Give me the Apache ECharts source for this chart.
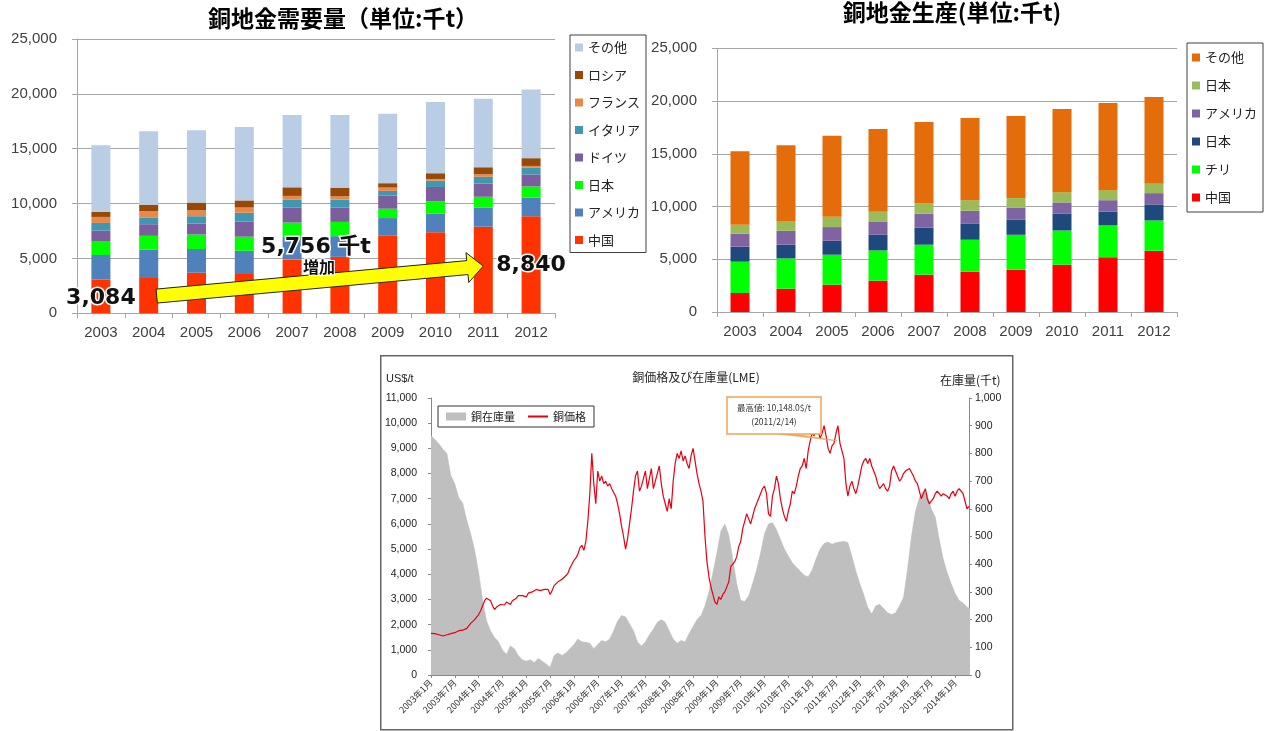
<!DOCTYPE html>
<html>
<head>
<meta charset="utf-8">
<script src="https://cdn.jsdelivr.net/npm/echarts@6/dist/echarts.min.js"></script>
<style>
  html, body { margin: 0; padding: 0; background: #fff; width: 1273px; height: 731px; overflow: hidden; }
  .panel { position: absolute; }
  #demand { left: 0; top: 0; width: 650px; height: 345px; }
  #production { left: 640px; top: 0; width: 633px; height: 345px; }
  #lme { left: 380px; top: 355px; width: 634px; height: 376px; background: #fff; }
</style>
</head>
<body>
<div id="demand" class="panel"></div>
<div id="production" class="panel"></div>
<div id="lme" class="panel"></div>
<script>
// ---------- Refined copper demand (thousand t) ----------
const years = ['2003', '2004', '2005', '2006', '2007', '2008', '2009', '2010', '2011', '2012'];

const demandChina   = [3084, 3300, 3700, 3580, 4910, 5150, 7080, 7385, 7890, 8840];
const demandUSA     = [2230, 2490, 2160, 2120, 2060, 1880, 1600, 1690, 1730, 1700];
const demandJapan   = [1220, 1270, 1320, 1280, 1300, 1300, 850, 1140, 1000, 1020];
const demandGermany = [1000, 1060, 1010, 1380, 1380, 1300, 1200, 1300, 1200, 1100];
const demandItaly   = [700, 620, 660, 800, 720, 730, 430, 570, 620, 600];
const demandFrance  = [550, 560, 540, 480, 330, 300, 300, 160, 230, 170];
const demandRussia  = [450, 600, 700, 650, 780, 790, 400, 520, 640, 710];
const demandOther   = [6080, 6700, 6600, 6700, 6600, 6630, 6320, 6500, 6250, 6250];

// ---------- Refined copper production (thousand t) ----------
const prodChina  = [1800, 2210, 2590, 2970, 3535, 3820, 4010, 4480, 5180, 5810];
const prodChile  = [2970, 2870, 2840, 2870, 2845, 3030, 3310, 3250, 3030, 2870];
const prodJapan  = [1420, 1300, 1325, 1480, 1610, 1550, 1420, 1610, 1320, 1520];
const prodUSA    = [1230, 1320, 1295, 1270, 1320, 1200, 1170, 1050, 1070, 1070];
const prodJapan2 = [850, 890, 980, 910, 980, 1000, 890, 970, 950, 880];
const prodOther  = [6980, 7220, 7670, 7860, 7730, 7800, 7790, 7890, 8270, 8240];

// ---------- LME copper price (US$/t), two readings per month from 2003-01 ----------
const copperPrice = [
  1650,1610, 1640,1620, 1600,1570, 1550,1580, 1600,1620, 1640,1650, 1680,1700, 1760,1740, 1780,1800, 1850,1950, 2050,2100, 2200,2300,
  2400,2550, 2750,2950, 3050,3100, 2950,2750, 2600,2700, 2650,2800, 2850,2780, 2900,2850, 2800,2950, 2900,3050, 3150,3100, 3150,3200,
  3100,3250, 3200,3300, 3350,3400, 3450,3350, 3300,3400, 3450,3400, 3200,3350, 3550,3600, 3700,3650, 3800,3850, 3950,4050, 4250,4400,
  4550,4650, 4800,5050, 5150,4950, 5300,6100, 7200,8800, 7600,6800, 8100,7700, 7900,7600, 7700,7500, 7600,7400, 7400,7100, 6800,6400,
  5900,5500, 5000,5400, 6000,6600, 7300,7900, 8100,7300, 7500,7800, 8100,7400, 7800,8200, 7400,7700, 8000,8300, 7600,7100, 6800,6500,
  7000,6600, 7700,8400, 8800,8600, 8900,8500, 8700,8400, 8200,8700, 9000,8500, 8000,7600, 7300,6900, 5500,4500, 3900,3500, 3200,2900,
  2800,3100, 3000,3200, 3300,3500, 3700,4300, 4400,4500, 4700,5100, 5300,5800, 6100,6400, 6200,6000, 6300,6600, 6800,7000, 7200,7400,
  7500,7200, 6400,6300, 7100,7400, 7900,7600, 7000,6600, 6300,6100, 6500,6800, 7300,7200, 7500,7900, 8200,8300, 8600,8200, 8900,9300,
  9600,9500, 9900,9700, 9400,9600, 9900,9500, 9000,8800, 9100,9200, 9600,9900, 9200,8900, 8600,7600, 7100,7500, 7700,7400, 7200,7500,
  7900,8300, 8500,8600, 8400,8600, 8300,8100, 7900,7600, 7400,7500, 7600,7400, 7300,7500, 8100,8300, 8100,7900, 7700,7800, 8000,8100,
  8100,8200, 8200,7900, 7700,7600, 7300,7000, 7200,7400, 7000,6800, 6900,7000, 7200,7300, 7200,7100, 7200,7200, 7100,7000, 7200,7300,
  7100,7300, 7400,7300, 7200,6900, 6600,6700
];

// ---------- LME copper stocks (thousand t), monthly from 2003-01 ----------
const copperStock = [
  865, 850, 835, 815, 800, 720, 690, 640, 620, 560, 510, 450,
  370, 270, 195, 160, 135, 120, 90, 75, 105, 95, 70, 55,
  50, 55, 45, 60, 50, 40, 28, 70, 80, 70, 80, 95,
  110, 130, 120, 118, 115, 95, 110, 125, 120, 130, 160, 195,
  215, 210, 185, 160, 120, 105, 120, 145, 165, 190, 200, 190,
  160, 130, 115, 125, 120, 150, 175, 200, 215, 250, 300, 370,
  440, 520, 545, 505, 420, 330, 270, 265, 285, 330, 380, 440,
  510, 545, 550, 525, 490, 455, 430, 405, 390, 375, 360, 355,
  380, 420, 455, 475, 480, 472, 478, 480, 483, 478, 430, 375,
  330, 290, 245, 220, 250, 255, 240, 225, 218, 225, 250, 280,
  380, 500, 590, 640, 665, 650, 600, 570, 490, 420, 370, 330,
  295, 270, 260, 245, 240
];

// Callout anchors (data units) for the demand growth arrow and price peak note
const arrowTailValue = 1570;
const arrowTipValue = 4300;
const peakNoteText = ['最高値: 10,148.0$/t', '(2011/2/14)'];
const peakNotePoint = [102.3, 9300];

const CJK = "'Noto Sans CJK JP', sans-serif";
const NUM = "'Liberation Sans', Arial, sans-serif";
const BOLDNUM = "'DejaVu Sans', 'Noto Sans CJK JP', sans-serif";
const GRID_GRAY = '#a6a6a6';
const fmtThousands = v => Number(v).toLocaleString('en-US');

function stackedBar(name, data, color) {
  return { name, type: 'bar', stack: 'total', data, barWidth: 19,
           itemStyle: { color }, emphasis: { disabled: true } };
}
function txt(x, y, text, extra) {
  return { type: 'text', x, y, z: 100, silent: true,
           style: Object.assign({ text, align: 'center', verticalAlign: 'middle',
                                  fill: '#000', fontFamily: CJK, fontSize: 12 }, extra || {}) };
}
function arrowPoints(tail, tip, shaftHalf, headHalf, headLen) {
  const dx = tip[0] - tail[0], dy = tip[1] - tail[1], L = Math.hypot(dx, dy);
  const ux = dx / L, uy = dy / L, nx = -uy, ny = ux;
  const bx = tip[0] - ux * headLen, by = tip[1] - uy * headLen;
  return [
    [tail[0] + nx * shaftHalf, tail[1] + ny * shaftHalf],
    [bx + nx * shaftHalf, by + ny * shaftHalf],
    [bx + nx * headHalf, by + ny * headHalf],
    [tip[0], tip[1]],
    [bx - nx * headHalf, by - ny * headHalf],
    [bx - nx * shaftHalf, by - ny * shaftHalf],
    [tail[0] - nx * shaftHalf, tail[1] - ny * shaftHalf]
  ];
}
function barAxes() {
  return {
    xAxis: {
      type: 'category', data: years,
      axisLine: { lineStyle: { color: GRID_GRAY } },
      axisTick: { show: true, length: 5, lineStyle: { color: GRID_GRAY } },
      axisLabel: { fontFamily: NUM, fontSize: 15, color: '#404040', margin: 12 }
    },
    yAxis: {
      type: 'value', min: 0, max: 25000, interval: 5000,
      axisLine: { show: true, lineStyle: { color: GRID_GRAY } },
      axisTick: { show: true, length: 5, lineStyle: { color: GRID_GRAY } },
      splitLine: { lineStyle: { color: GRID_GRAY } },
      axisLabel: { fontFamily: NUM, fontSize: 15, color: '#404040', margin: 20, formatter: fmtThousands }
    }
  };
}

// ---------- Demand chart ----------
const demandChart = echarts.init(document.getElementById('demand'), null, { renderer: 'canvas' });
demandChart.setOption(Object.assign({
  animation: false,
  grid: { left: 77, right: 95, top: 39, bottom: 31.7, outerBoundsMode: 'none' },
  legend: {
    orient: 'vertical', left: 570, top: 35,
    data: ['その他', 'ロシア', 'フランス', 'イタリア', 'ドイツ', '日本', 'アメリカ', '中国'],
    icon: 'rect', itemWidth: 8, itemHeight: 8, itemGap: 14.5,
    padding: [6, 6, 6, 5], borderColor: '#404040', borderWidth: 1,
    textStyle: { fontFamily: CJK, fontSize: 13, lineHeight: 13, color: '#222' },
    selectedMode: false
  },
  series: [
    stackedBar('中国', demandChina, '#ff3300'),
    stackedBar('アメリカ', demandUSA, '#4f81bd'),
    stackedBar('日本', demandJapan, '#00ff00'),
    stackedBar('ドイツ', demandGermany, '#7b5e9e'),
    stackedBar('イタリア', demandItaly, '#3f98b2'),
    stackedBar('フランス', demandFrance, '#e8894a'),
    stackedBar('ロシア', demandRussia, '#984807'),
    stackedBar('その他', demandOther, '#b9cde5')
  ]
}, barAxes()));

(function addDemandNotes() {
  const P = (c, v) => demandChart.convertToPixel({ seriesIndex: 0 }, [c, v]);
  const first = years[0], last = years[years.length - 1];
  const tail = P('2004', arrowTailValue); tail[0] += 8;
  const tip = P('2011', arrowTipValue);
  const mid = [(tail[0] + tip[0]) / 2, (tail[1] + tip[1]) / 2];
  const startLbl = P(first, 1400), endLbl = P(last, 4390);
  const growth = demandChina[demandChina.length - 1] - demandChina[0];
  const bigText = { fontFamily: BOLDNUM, fontWeight: 'bold', fontSize: 22, fill: '#111',
                    stroke: '#fff', lineWidth: 3 };
  demandChart.setOption({
    graphic: [
      txt(343, 18, '銅地金需要量（単位:千t）', { fontSize: 23, fontWeight: 'bold' }),
      { type: 'polygon', z: 90, silent: true,
        shape: { points: arrowPoints(tail, tip, 7, 15, 16) },
        style: { fill: '#ffff00', stroke: '#222', lineWidth: 1 } },
      txt(startLbl[0], startLbl[1], fmtThousands(demandChina[0]), bigText),
      txt(endLbl[0], endLbl[1], fmtThousands(demandChina[demandChina.length - 1]), bigText),
      txt(mid[0] - 4, mid[1] - 34, fmtThousands(growth) + ' 千t', bigText),
      txt(mid[0] - 1, mid[1] - 14, '増加', { fontFamily: CJK, fontWeight: 'bold', fontSize: 16,
                                           fill: '#111', stroke: '#fff', lineWidth: 2 })
    ]
  });
})();

// ---------- Production chart ----------
const prodChart = echarts.init(document.getElementById('production'), null, { renderer: 'canvas' });
prodChart.setOption(Object.assign({
  animation: false,
  grid: { left: 77, right: 96, top: 48.3, bottom: 33, outerBoundsMode: 'none' },
  legend: {
    orient: 'vertical', left: 547, top: 43,
    data: ['その他', '日本 ', 'アメリカ', '日本', 'チリ', '中国'],
    icon: 'rect', itemWidth: 8, itemHeight: 8, itemGap: 15,
    padding: [8, 6, 8, 5], borderColor: '#404040', borderWidth: 1,
    textStyle: { fontFamily: CJK, fontSize: 13, lineHeight: 13, color: '#222' },
    selectedMode: false
  },
  series: [
    stackedBar('中国', prodChina, '#ff0000'),
    stackedBar('チリ', prodChile, '#00ff00'),
    stackedBar('日本', prodJapan, '#1f497d'),
    stackedBar('アメリカ', prodUSA, '#8064a2'),
    stackedBar('日本 ', prodJapan2, '#9bbb59'),
    stackedBar('その他', prodOther, '#e46c0a')
  ],
  graphic: [ txt(312, 12, '銅地金生産(単位:千t)', { fontSize: 23, fontWeight: 'bold' }) ]
}, barAxes()));

// ---------- LME price & stocks chart ----------
const MONTH0 = 2003;
const monthLabel = m => {
  if (m % 6 !== 0) return '';
  return (MONTH0 + Math.floor(m / 12)) + '年' + (m % 12 + 1) + '月';
};
const priceData = copperPrice.map((v, i) => [i / 2, v]);
const stockData = copperStock.map((v, j) => [j, v]);

const lmeChart = echarts.init(document.getElementById('lme'), null, { renderer: 'canvas' });
lmeChart.setOption({
  animation: false,
  grid: { left: 51, right: 45, top: 43, bottom: 56, outerBoundsMode: 'none' },
  legend: {
    left: 58, top: 51, orient: 'horizontal',
    data: [{ name: '銅在庫量', icon: 'rect' },
           { name: '銅価格', itemStyle: { opacity: 0 } }],
    itemWidth: 20, itemHeight: 8, itemGap: 12,
    padding: [5, 8, 5, 8], borderColor: '#333', borderWidth: 1, backgroundColor: '#fff',
    textStyle: { fontFamily: CJK, fontSize: 11, color: '#222' },
    selectedMode: false
  },
  xAxis: {
    type: 'value', min: 0, max: 135.5, interval: 6,
    splitLine: { show: false },
    axisLine: { show: true, lineStyle: { color: '#888' } },
    axisTick: { show: true, length: 3, lineStyle: { color: '#888' } },
    axisLabel: { rotate: 45, fontFamily: CJK, fontSize: 9, color: '#333', margin: 6,
                 formatter: monthLabel, showMaxLabel: false }
  },
  yAxis: [
    { type: 'value', min: 0, max: 11000, interval: 1000, position: 'left',
      splitLine: { show: false },
      axisLine: { show: true, lineStyle: { color: '#888' } },
      axisTick: { show: true, length: 3, lineStyle: { color: '#888' } },
      axisLabel: { fontFamily: NUM, fontSize: 10.5, color: '#222', margin: 14, formatter: fmtThousands } },
    { type: 'value', min: 0, max: 1000, interval: 100, position: 'right',
      splitLine: { show: false },
      axisLine: { show: true, lineStyle: { color: '#888' } },
      axisTick: { show: true, length: 3, lineStyle: { color: '#888' } },
      axisLabel: { fontFamily: NUM, fontSize: 10.5, color: '#222', margin: 6, formatter: fmtThousands } }
  ],
  series: [
    { name: '銅在庫量', type: 'line', yAxisIndex: 1, data: stockData, symbol: 'none',
      color: '#bfbfbf', lineStyle: { width: 0.5, color: '#bfbfbf' },
      areaStyle: { color: '#bfbfbf', opacity: 1 }, z: 1, emphasis: { disabled: true } },
    { name: '銅価格', type: 'line', yAxisIndex: 0, data: priceData, symbol: 'none',
      color: '#e60012', lineStyle: { width: 1.2, color: '#e60012' }, z: 3, emphasis: { disabled: true } }
  ]
});

(function addLmeNotes() {
  const pt = lmeChart.convertToPixel({ seriesIndex: 1 }, peakNotePoint);
  lmeChart.setOption({
    graphic: [
      { type: 'rect', z: 0, silent: true, shape: { x: 0.75, y: 0.75, width: 632, height: 374 },
        style: { fill: null, stroke: '#666', lineWidth: 1.5 } },
      txt(316, 22, '銅価格及び在庫量(LME)', { fontSize: 12, fill: '#222' }),
      txt(6, 24, 'US$/t', { fontSize: 11, fill: '#222', fontFamily: NUM, align: 'left' }),
      txt(560, 25, '在庫量(千t)', { fontSize: 12, fill: '#222', align: 'left' }),
      { type: 'polygon', z: 99, silent: true,
        shape: { points: [[398, 79], [414, 79], pt] },
        style: { fill: '#f4a460', stroke: '#f0a050', lineWidth: 0.6 } },
      { type: 'rect', z: 100, silent: true, shape: { x: 347, y: 42, width: 94, height: 37 },
        style: { fill: '#fff', stroke: '#f2a354', lineWidth: 1.5 } },
      txt(394, 53, peakNoteText[0], { fontSize: 8.5, fill: '#333' }),
      txt(394, 67, peakNoteText[1], { fontSize: 8.5, fill: '#333' })
    ]
  });
})();
</script>
</body>
</html>
